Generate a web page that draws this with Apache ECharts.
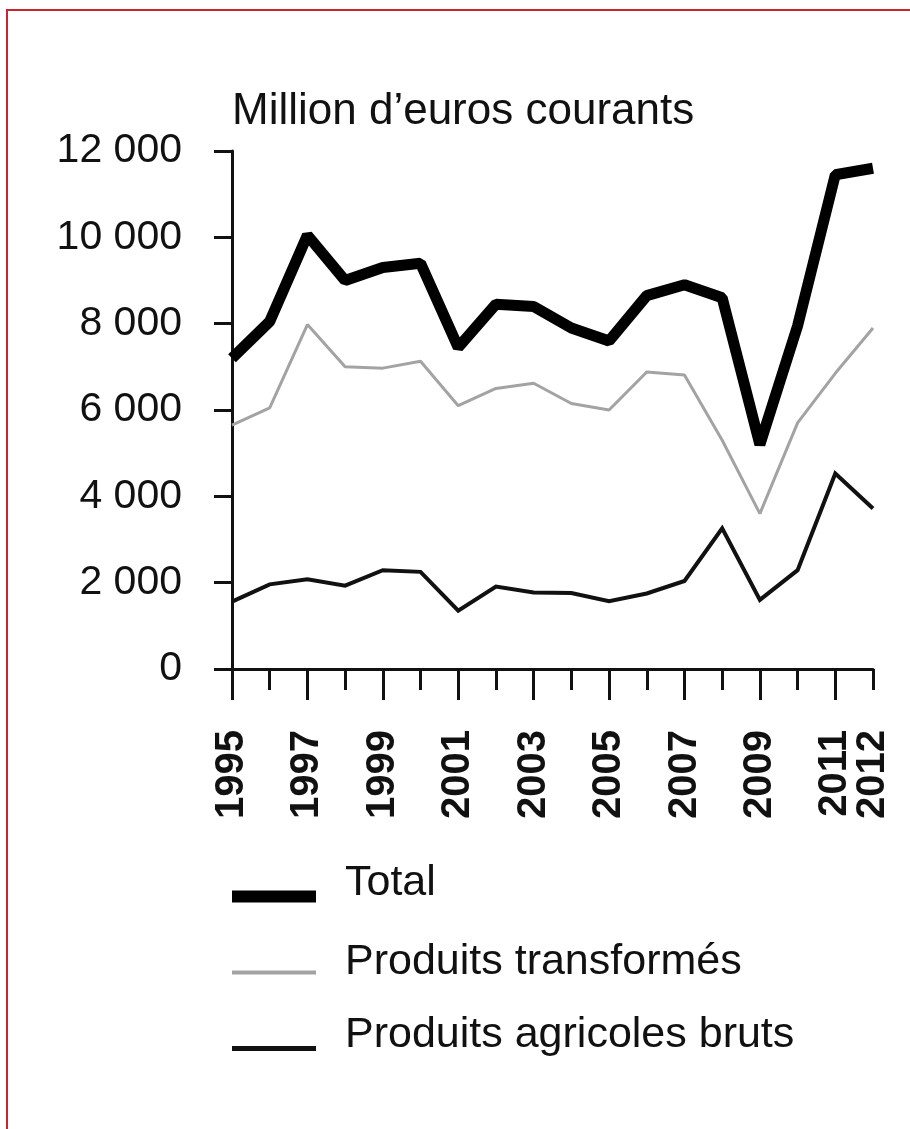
<!DOCTYPE html>
<html>
<head>
<meta charset="utf-8">
<script src="https://cdn.jsdelivr.net/npm/echarts@6/dist/echarts.min.js"></script>
<style>
  html, body { margin: 0; padding: 0; background: #fff; overflow: hidden; }
  #chart { width: 910px; height: 1129px; }
</style>
</head>
<body>
<div id="chart"></div>
<script>
// années
const annees = ['1995', '1996', '1997', '1998', '1999', '2000', '2001', '2002', '2003',
  '2004', '2005', '2006', '2007', '2008', '2009', '2010', '2011', '2012'];

// millions d'euros courants
const total = [7200, 8050, 10050, 9000, 9300, 9400, 7450, 8450, 8400,
  7900, 7600, 8650, 8900, 8600, 5200, 7950, 11450, 11600];
const transformes = [5650, 6050, 7980, 7000, 6970, 7130, 6100, 6500, 6620,
  6150, 6000, 6880, 6810, 5300, 3600, 5700, 6850, 7900];
const bruts = [1560, 1960, 2080, 1930, 2290, 2250, 1350, 1910, 1770,
  1760, 1570, 1750, 2040, 3260, 1600, 2290, 4530, 3720];

const yTicks = [0, 2000, 4000, 6000, 8000, 10000, 12000];

const police = 'Liberation Sans, Arial, sans-serif';
const noir = '#111';
const dernier = annees.length - 1;

const chart = echarts.init(document.getElementById('chart'));

// icône = trait posé sous le centre du texte (le M0,0 réserve la place au-dessus)
const legende = (nom, haut, icone, hauteur) => ({
  data: [nom],
  left: 232,
  top: haut,
  padding: 0,
  icon: icone,
  itemWidth: 84,
  itemHeight: hauteur,
  selectedMode: false,
  textStyle: {
    fontFamily: police,
    fontSize: 43,
    color: noir,
    padding: [0, 0, 0, 24],
  },
});

const labelAnnee = {
  rotate: 90,
  margin: 61,
  lineHeight: 30,
  hideOverlap: false,
  fontFamily: police,
  fontSize: 40,
  fontWeight: 'bold',
  color: noir,
};

const option = {
  animation: false,
  backgroundColor: '#fff',
  title: {
    text: 'Million d’euros courants',
    left: 232,
    top: 90,
    padding: 0,
    textStyle: { fontFamily: police, fontSize: 44, fontWeight: 'normal', color: noir },
  },
  grid: { left: 232, right: 37, top: 151, bottom: 460 },
  xAxis: [
    {
      // années impaires
      type: 'category',
      data: annees,
      boundaryGap: false,
      axisLine: { lineStyle: { color: noir, width: 3 } },
      axisTick: { length: 21, interval: 0, lineStyle: { color: noir, width: 3 } },
      axisLabel: Object.assign({}, labelAnnee, {
        interval: (i) => i % 2 === 0 && i !== dernier,
      }),
    },
    {
      // graduations longues + étiquette de la dernière année
      type: 'category',
      data: annees,
      boundaryGap: false,
      position: 'bottom',
      offset: 0,
      axisLine: { show: false },
      axisTick: { length: 31, interval: (i) => i % 2 === 0, lineStyle: { color: noir, width: 3 } },
      axisLabel: Object.assign({}, labelAnnee, {
        interval: (i) => i === dernier,
      }),
    },
  ],
  yAxis: {
    type: 'value',
    min: yTicks[0],
    max: yTicks[yTicks.length - 1],
    interval: 2000,
    splitLine: { show: false },
    axisLine: { show: true, lineStyle: { color: noir, width: 3 } },
    axisTick: { show: true, length: 18, lineStyle: { color: noir, width: 3 } },
    axisLabel: {
      margin: 50,
      fontFamily: police,
      fontSize: 41,
      color: noir,
      formatter: (v) => String(v).replace(/\B(?=(\d{3})+(?!\d))/g, ' '),
    },
  },
  legend: [
    legende('Total', 862, 'path://M0,0 M0,26 L84,26 L84,38 L0,38 Z', 38),
    legende('Produits transformés', 941, 'path://M0,0 M0,20 L84,20 L84,24 L0,24 Z', 24),
    legende('Produits agricoles bruts', 1014, 'path://M0,0 M0,26 L84,26 L84,31 L0,31 Z', 31),
  ],
  graphic: [
    {
      type: 'rect',
      shape: { x: 7, y: 10, width: 1000, height: 1200 },
      style: { fill: 'none', stroke: '#c8262c', lineWidth: 2 },
      silent: true,
    },
  ],
  series: [
    {
      name: 'Produits agricoles bruts',
      type: 'line',
      data: bruts,
      symbol: 'none',
      color: noir,
      lineStyle: { color: noir, width: 4, join: 'miter' },
    },
    {
      name: 'Produits transformés',
      type: 'line',
      data: transformes,
      symbol: 'none',
      color: '#a3a3a3',
      lineStyle: { color: '#a3a3a3', width: 3 },
    },
    {
      name: 'Total',
      type: 'line',
      data: total,
      symbol: 'none',
      color: '#000',
      lineStyle: { color: '#000', width: 11 },
      z: 3,
    },
  ],
};

chart.setOption(option);
</script>
</body>
</html>
